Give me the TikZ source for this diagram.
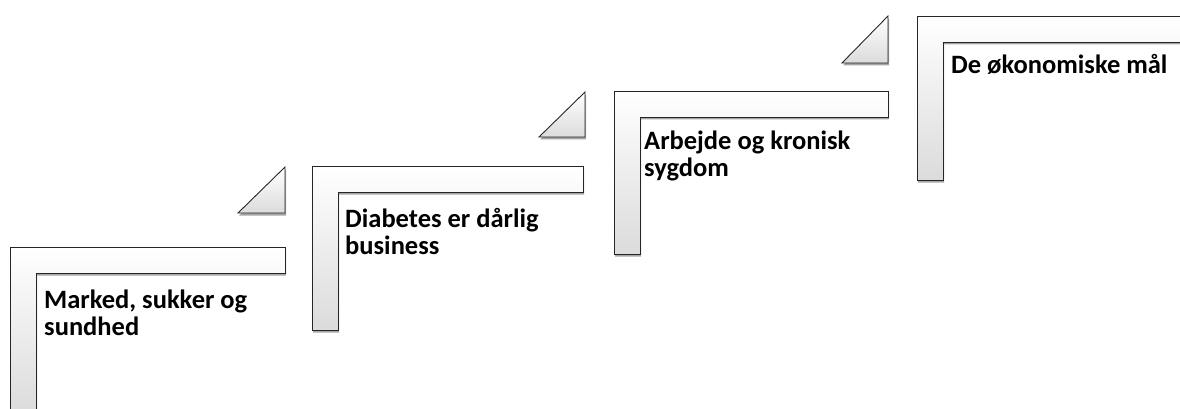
\documentclass[tikz,border=0pt]{standalone}
\usepackage{fontspec}
\setmainfont{Carlito}
\usetikzlibrary{shadows}
% one step of the stair: \stair(left,top)(right,bottom)
\def\stair(#1,#2)(#3,#4){\draw[stairstyle] (#1,#2) -- (#3,#2) -- (#3,#2+26) -- (#1+26,#2+26) -- (#1+26,#4) -- (#1,#4) -- cycle;}
\def\wedge(#1,#2)(#3,#4){\draw[stairstyle] (#1,#4) -- (#3,#2) -- (#3,#4) -- cycle;}
\tikzset{
  stairstyle/.style={draw=black!85, line width=0.9pt, top color=white, bottom color=black!14,
    drop shadow={shadow xshift=1pt, shadow yshift=-2.5pt, opacity=0.5, fill=black!70}},
  steptext/.style={anchor=base west, inner sep=0pt, align=left, font=\bfseries\fontsize{26.5}{27}\selectfont}
}
\begin{document}
\begin{tikzpicture}[x=1pt, y=-1pt]
		\useasboundingbox (0,0) rectangle (1180,409);
		
		%%%%% STEPS %%%%%
		\stair(10,247)(285,415);
		\stair(312,166)(583,330);
		\stair(614,91)(888,254);
		\stair(917,16)(1192,180);
		
		\wedge(238,167)(285,213);
		\wedge(539,92)(585,137);
		\wedge(842,16)(888,63);
		
		%%%%% LABELS %%%%%
		\node[steptext] (marked) at (44,335) {Marked, sukker og\\sundhed};
		\node[steptext] (diabetes) at (345,254) {Diabetes er dårlig\\business};
		\node[steptext] (arbejde) at (644,176) {Arbejde og kronisk\\sygdom};
		\node[steptext] (maal) at (951,74) {De økonomiske mål};
\end{tikzpicture}
\end{document}
